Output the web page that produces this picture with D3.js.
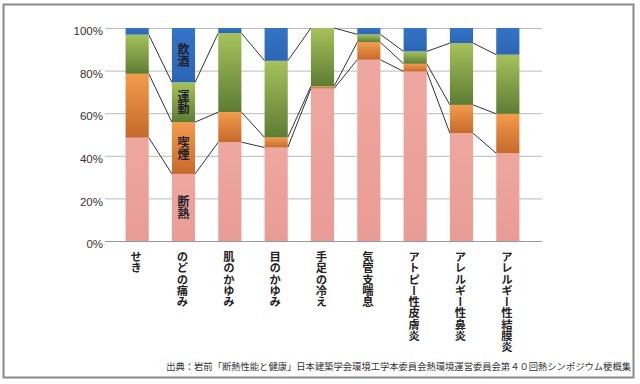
<!DOCTYPE html>
<html>
<head>
<meta charset="utf-8">
<script src="https://cdn.jsdelivr.net/npm/d3@7"></script>
<style>
  body { margin: 0; background: #fff; }
  svg { display: block; font-family: "Noto Sans CJK JP", "Noto Sans", sans-serif; }
  .vt { writing-mode: vertical-rl; text-orientation: upright; }
</style>
</head>
<body>
<div id="chart"></div>
<script>
var categories = ["せき", "のどの痛み", "肌のかゆみ", "目のかゆみ", "手足の冷え", "気管支喘息", "アトピー性皮膚炎", "アレルギー性鼻炎", "アレルギー性結膜炎"];
var seriesNames = ["断熱", "喫煙", "運動", "飲酒"];
var dannetsu = [48.5, 31.5, 46.4, 43.9, 71.6, 85.1, 79.6, 50.6, 41.2];
var kitsuen  = [30.0, 24.3, 14.1, 4.7, 1.0, 8.2, 3.6, 13.3, 18.5];
var undou    = [18.4, 18.7, 37.1, 36.0, 27.4, 3.7, 5.8, 29.0, 27.8];
var inshu    = [3.1, 25.5, 2.4, 15.4, 0.0, 3.0, 11.0, 7.1, 12.5];
var yTicks = [0, 20, 40, 60, 80, 100];
var sourceText = "出典：岩前「断熱性能と健康」日本建築学会環境工学本委員会熱環境運営委員会第４０回熱シンポジウム梗概集";

var WIDTH = 640, HEIGHT = 384;

var svg = d3.select("#chart").append("svg")
  .attr("width", WIDTH)
  .attr("height", HEIGHT);

// gradients, one per segment via objectBoundingBox
var defs = svg.append("defs");
function grad(id, top, bottom) {
  var g = defs.append("linearGradient").attr("id", id)
    .attr("x1", 0).attr("y1", 0).attr("x2", 0).attr("y2", 1);
  g.append("stop").attr("offset", "0%").attr("stop-color", top);
  g.append("stop").attr("offset", "100%").attr("stop-color", bottom);
}
grad("gPink", "#eea7a0", "#e99c95");
grad("gOrange", "#f39c4c", "#c6692c");
grad("gGreen", "#a6c25c", "#5d7c33");
grad("gBlue", "#3474c6", "#2b66b4");
var fills = ["url(#gPink)", "url(#gOrange)", "url(#gGreen)", "url(#gBlue)"];

// frame
svg.append("rect")
  .attr("x", 3.5).attr("y", 4.5)
  .attr("width", 630).attr("height", 373)
  .attr("fill", "none")
  .attr("stroke", "#8a8a8a")
  .attr("stroke-width", 2);

var x = d3.scaleBand().domain(categories).range([114, 531]).paddingInner(0.5).paddingOuter(0.25);
var y = d3.scaleLinear().domain([0, 100]).range([241, 28]);

// gridlines
svg.append("g")
  .selectAll("line")
  .data(yTicks)
  .join("line")
  .attr("x1", 105).attr("x2", 542)
  .attr("y1", function(d) { return y(d) + 0.5; })
  .attr("y2", function(d) { return y(d) + 0.5; })
  .attr("stroke", function(d) { return d === 0 ? "#999" : "#bbb"; })
  .attr("stroke-width", 1);

// y axis labels
var yAxis = svg.append("g")
  .attr("transform", "translate(104,3)")
  .call(d3.axisLeft(y).tickValues(yTicks).tickSize(0).tickPadding(1).tickFormat(function(d) { return d + "%"; }))
  .call(function(g) { g.select(".domain").remove(); });
yAxis.selectAll("text")
  .attr("fill", "#333")
  .style("font-size", "11.5px")
  .style("font-family", "Liberation Sans, Arial, sans-serif");

// stack data
var rows = categories.map(function(c, i) {
  return { cat: c, "断熱": dannetsu[i], "喫煙": kitsuen[i], "運動": undou[i], "飲酒": inshu[i] };
});
var stacked = d3.stack().keys(seriesNames)(rows);

var bw = x.bandwidth();

// series lines between bar tops (first three boundaries)
var lineG = svg.append("g");
stacked.slice(0, 3).forEach(function(s) {
  for (var i = 0; i < s.length - 1; i++) {
    lineG.append("line")
      .attr("x1", x(categories[i]) + bw)
      .attr("y1", y(s[i][1]))
      .attr("x2", x(categories[i + 1]))
      .attr("y2", y(s[i + 1][1]))
      .attr("stroke", "#333")
      .attr("stroke-width", 1);
  }
});

// bars
svg.append("g")
  .selectAll("g")
  .data(stacked)
  .join("g")
  .attr("fill", function(d, i) { return fills[i]; })
  .selectAll("rect")
  .data(function(d) { return d; })
  .join("rect")
  .attr("x", function(d) { return x(d.data.cat); })
  .attr("y", function(d) { return y(d[1]); })
  .attr("width", bw)
  .attr("height", function(d) { return Math.max(0, y(d[0]) - y(d[1])); });

// in-bar series labels on のどの痛み
var labBar = categories[1];
svg.append("g")
  .selectAll("text")
  .data(stacked)
  .join("text")
  .attr("class", "vt")
  .attr("x", x(labBar) + bw / 2)
  .attr("y", function(d) { return (y(d[1][0]) + y(d[1][1])) / 2; })
  .attr("text-anchor", "middle")
  .attr("fill", "#1e1e2a")
  .style("font-size", "12px")
  .style("font-weight", "bold")
  .text(function(d) { return d.key; });

// category labels (vertical)
svg.append("g")
  .selectAll("text")
  .data(categories)
  .join("text")
  .attr("class", "vt")
  .attr("x", function(d) { return x(d) + bw / 2 - 1; })
  .attr("y", 251)
  .attr("fill", "#222")
  .style("font-size", "11.3px")
  .style("font-weight", "bold")
  .text(function(d) { return d; });

// source
svg.append("text")
  .attr("x", 631)
  .attr("y", 370)
  .attr("text-anchor", "end")
  .attr("fill", "#333")
  .style("font-size", "9.3px")
  .text(sourceText);
</script>
</body>
</html>
